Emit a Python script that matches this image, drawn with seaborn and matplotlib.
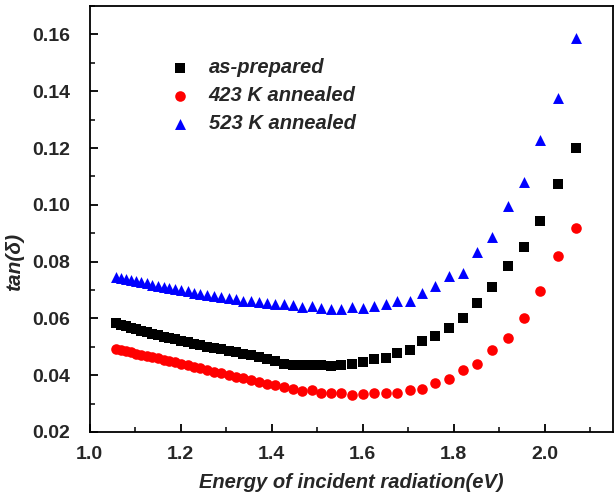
import matplotlib
matplotlib.use("Agg")
import matplotlib.pyplot as plt
import seaborn as sns
import pandas as pd
from matplotlib.ticker import MultipleLocator

# Photon energy (eV), shared by all three series (ascending)
energy = [1.057, 1.068, 1.079, 1.090, 1.101, 1.113, 1.125, 1.137, 1.149, 1.162,
          1.174, 1.188, 1.201, 1.215, 1.229, 1.243, 1.258, 1.273, 1.289, 1.305,
          1.321, 1.337, 1.355, 1.372, 1.390, 1.408, 1.427, 1.447, 1.467, 1.488,
          1.509, 1.531, 1.553, 1.576, 1.600, 1.624, 1.650, 1.676, 1.703, 1.730,
          1.759, 1.789, 1.820, 1.851, 1.884, 1.918, 1.954, 1.990, 2.029, 2.068]

as_prepared = [0.0584, 0.0578, 0.0572, 0.0566, 0.0561, 0.0556, 0.0551, 0.0546, 0.0541, 0.0536,
               0.0531, 0.0526, 0.0521, 0.0516, 0.0511, 0.0506, 0.0501, 0.0496, 0.0491, 0.0486,
               0.0481, 0.0476, 0.0470, 0.0464, 0.0457, 0.0450, 0.0438, 0.0435, 0.0435, 0.0435,
               0.0435, 0.0433, 0.0435, 0.0441, 0.0445, 0.0456, 0.0459, 0.0479, 0.0490, 0.0519,
               0.0538, 0.0566, 0.0601, 0.0655, 0.0710, 0.0783, 0.0851, 0.0942, 0.1075, 0.1199]

annealed_423 = [0.0494, 0.0489, 0.0485, 0.0480, 0.0476, 0.0472, 0.0467, 0.0463, 0.0459, 0.0454,
                0.0450, 0.0445, 0.0440, 0.0435, 0.0430, 0.0425, 0.0419, 0.0413, 0.0407, 0.0401,
                0.0395, 0.0389, 0.0383, 0.0376, 0.0370, 0.0364, 0.0358, 0.0351, 0.0345, 0.0347,
                0.0339, 0.0339, 0.0336, 0.0332, 0.0333, 0.0338, 0.0339, 0.0338, 0.0347, 0.0353,
                0.0371, 0.0388, 0.0418, 0.0441, 0.0488, 0.0532, 0.0601, 0.0698, 0.0821, 0.0917]

annealed_523 = [0.0747, 0.0743, 0.0739, 0.0735, 0.0731, 0.0727, 0.0723, 0.0719, 0.0715, 0.0711,
                0.0707, 0.0703, 0.0699, 0.0695, 0.0691, 0.0687, 0.0683, 0.0679, 0.0675, 0.0671,
                0.0667, 0.0663, 0.0660, 0.0657, 0.0654, 0.0652, 0.0650, 0.0648, 0.0640, 0.0642,
                0.0638, 0.0634, 0.0632, 0.0640, 0.0638, 0.0645, 0.0649, 0.0660, 0.0661, 0.0689,
                0.0713, 0.0748, 0.0759, 0.0833, 0.0888, 0.0997, 0.1081, 0.1228, 0.1375, 0.1588]

labels = ["as-prepared", "423 K annealed", "523 K annealed"]
colors = ["#000000", "#ff0000", "#0000ff"]
markers = ["s", "o", "^"]
sizes = [48, 58, 62]

sns.set_style("white")
plt.rcParams["font.family"] = ["Liberation Sans", "DejaVu Sans"]

fig = plt.figure(figsize=(6.15, 5.0), dpi=100)
ax = fig.add_axes([0.146, 0.136, 0.851, 0.852])

for vals, lab, c, m, s in zip([as_prepared, annealed_423, annealed_523], labels, colors, markers, sizes):
    df = pd.DataFrame({"E": energy, "tan": vals})
    sns.scatterplot(data=df, x="E", y="tan", ax=ax, color=c, marker=m, s=s,
                    linewidth=0, label=lab)

ax.set_xlim(1.0, 2.15)
ax.set_ylim(0.02, 0.17)
ax.xaxis.set_major_locator(MultipleLocator(0.2))
ax.xaxis.set_minor_locator(MultipleLocator(0.1))
ax.yaxis.set_major_locator(MultipleLocator(0.02))
ax.yaxis.set_minor_locator(MultipleLocator(0.01))
ax.set_xticks([1.0, 1.2, 1.4, 1.6, 1.8, 2.0])
ax.set_xticklabels(["1.0", "1.2", "1.4", "1.6", "1.8", "2.0"])
ax.set_yticks([0.02, 0.04, 0.06, 0.08, 0.10, 0.12, 0.14, 0.16])
ax.set_yticklabels(["0.02", "0.04", "0.06", "0.08", "0.10", "0.12", "0.14", "0.16"])
ax.tick_params(which="major", direction="in", length=6, width=1.3, color="black",
               labelsize=14, bottom=True, left=True, top=False, right=False)
ax.tick_params(axis="y", which="major", pad=14)
ax.tick_params(axis="x", which="major", pad=10)
ax.tick_params(which="minor", direction="in", length=3.5, width=1.1, color="black",
               bottom=True, left=True, top=False, right=False)
for lbl in ax.get_xticklabels() + ax.get_yticklabels():
    lbl.set_fontweight("bold")

for sp in ax.spines.values():
    sp.set_visible(True)
    sp.set_color("black")
    sp.set_linewidth(1.3)

ax.set_xlabel("Energy of incident radiation(eV)", fontsize=14.5, fontweight="bold",
              fontstyle="italic", labelpad=7)
ax.set_ylabel("tan(δ)", fontsize=15, fontweight="bold", fontstyle="italic")
ax.yaxis.set_label_coords(-0.125, 0.40)

leg = ax.legend(loc="upper left", bbox_to_anchor=(0.1, 0.92), frameon=False,
                prop={"size": 14.5, "weight": "bold", "style": "italic"},
                handletextpad=0.4, labelspacing=0.45, markerscale=1.0)

fig.savefig("out.png", dpi=100)
